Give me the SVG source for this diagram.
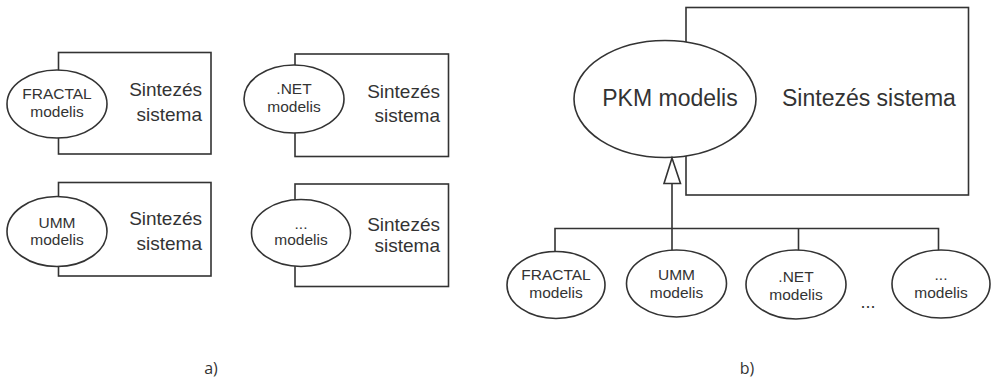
<svg xmlns="http://www.w3.org/2000/svg" width="992" height="384" viewBox="0 0 992 384">
  <style>
    .box { fill: #fff; stroke: #333; stroke-width: 1.6; }
    .ell { fill: #fff; stroke: #333; stroke-width: 1.6; }
    .ln { fill: none; stroke: #333; stroke-width: 1.6; }
    .m { font-family: "Liberation Sans", Arial, sans-serif; font-size: 15.5px; fill: #333; text-anchor: middle; }
    .s { font-family: "Liberation Sans", Arial, sans-serif; font-size: 19px; fill: #333; text-anchor: end; }
    .big { font-family: "Liberation Sans", Arial, sans-serif; font-size: 23px; fill: #333; }
    .lbl { font-family: "Open Sans", "Liberation Sans", sans-serif; font-size: 16px; fill: #333; text-anchor: middle; }
  </style>

  <!-- part a): four synthesis systems, each with its own model -->
  <g id="sys-fractal">
    <rect class="box" x="58.5" y="52.5" width="152.5" height="101.5"/>
    <ellipse class="ell" cx="57" cy="104" rx="50" ry="34"/>
    <text class="m" x="57" y="99">FRACTAL</text>
    <text class="m" x="57" y="117">modelis</text>
    <text class="s" x="202" y="96">Sintezés</text>
    <text class="s" x="202" y="121">sistema</text>
  </g>

  <g id="sys-net">
    <rect class="box" x="295" y="54" width="153.5" height="102.5"/>
    <ellipse class="ell" cx="294" cy="99" rx="50" ry="34"/>
    <text class="m" x="294" y="94">.NET</text>
    <text class="m" x="294" y="112">modelis</text>
    <text class="s" x="440" y="98">Sintezés</text>
    <text class="s" x="440" y="122">sistema</text>
  </g>

  <g id="sys-umm">
    <rect class="box" x="58.5" y="182.5" width="152.5" height="93.5"/>
    <ellipse class="ell" cx="57" cy="231.5" rx="50" ry="35"/>
    <text class="m" x="57" y="228">UMM</text>
    <text class="m" x="57" y="245">modelis</text>
    <text class="s" x="202" y="225">Sintezés</text>
    <text class="s" x="202" y="250">sistema</text>
  </g>

  <g id="sys-other">
    <rect class="box" x="295" y="184" width="153.5" height="102.5"/>
    <ellipse class="ell" cx="301" cy="233" rx="49.5" ry="33.5"/>
    <text class="m" x="301" y="229">...</text>
    <text class="m" x="301" y="245">modelis</text>
    <text class="s" x="440" y="231">Sintezés</text>
    <text class="s" x="440" y="252">sistema</text>
  </g>

  <text class="lbl" x="211" y="374">a)</text>

  <!-- part b): one synthesis system with the generalised PKM model -->
  <g id="sys-pkm">
    <rect class="box" x="686" y="7.5" width="282.5" height="187.5"/>
    <ellipse class="ell" cx="665" cy="99" rx="91" ry="58.5"/>
    <text class="big" x="670" y="106" text-anchor="middle">PKM modelis</text>
    <text class="big" x="782" y="106">Sintezés sistema</text>
  </g>

  <g id="connectors">
    <path class="ln" d="M672 183.5 V228.5 M555 251.5 V228.5 H938.5 V251 M798.5 228.5 V250.5 M672 228.5 V250"/>
    <polygon class="ell" points="672,158 664,183.5 680.5,183.5"/>
  </g>

  <g id="m-fractal">
    <ellipse class="ell" cx="556" cy="285" rx="49" ry="33.5"/>
    <text class="m" x="556" y="280">FRACTAL</text>
    <text class="m" x="556" y="298">modelis</text>
  </g>
  <g id="m-umm">
    <ellipse class="ell" cx="676.5" cy="283.5" rx="50" ry="33.5"/>
    <text class="m" x="676.5" y="280">UMM</text>
    <text class="m" x="676.5" y="298">modelis</text>
  </g>
  <g id="m-net">
    <ellipse class="ell" cx="796" cy="284.5" rx="50" ry="34.5"/>
    <text class="m" x="796" y="282">.NET</text>
    <text class="m" x="796" y="300">modelis</text>
  </g>
  <g id="m-other">
    <ellipse class="ell" cx="941" cy="284" rx="49" ry="34"/>
    <text class="m" x="941" y="280">...</text>
    <text class="m" x="941" y="298">modelis</text>
  </g>
  <text class="m" x="868" y="308" style="font-size:18px">...</text>

  <text class="lbl" x="747" y="374">b)</text>
</svg>
